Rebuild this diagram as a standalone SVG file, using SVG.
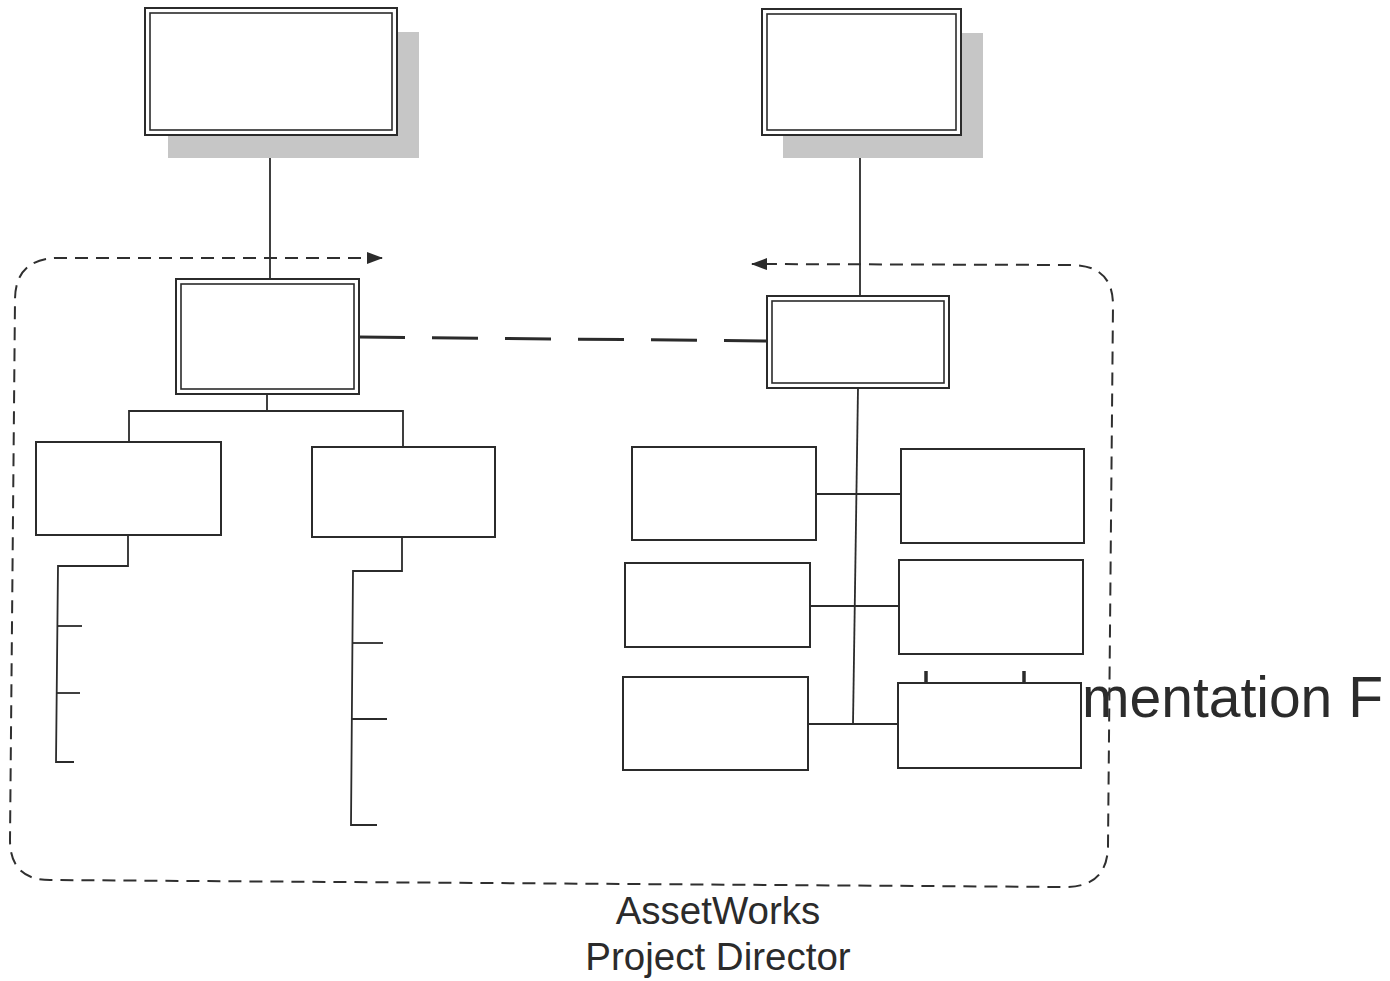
<svg xmlns="http://www.w3.org/2000/svg" width="1390" height="981" viewBox="0 0 1390 981">
  <defs>
    <style>
      .shadow { fill: #c6c6c6; stroke: none; }
      .outer { fill: #ffffff; stroke: #2b2b2b; stroke-width: 2; }
      .inner { fill: none; stroke: #2b2b2b; stroke-width: 1.6; }
      .box { fill: #ffffff; stroke: #2b2b2b; stroke-width: 2; }
      .wire { fill: none; stroke: #2b2b2b; stroke-width: 1.8; }
      .link { fill: none; stroke: #2b2b2b; stroke-width: 3; stroke-dasharray: 46 27; }
      .boundary { fill: none; stroke: #2f2f2f; stroke-width: 2; stroke-dasharray: 13 8; }
      .tick { stroke: #2b2b2b; stroke-width: 3.5; }
      .label { font-family: "Liberation Sans", Arial, sans-serif; fill: #2b2b2b; }
    </style>
    <marker id="head" viewBox="0 0 16 12" refX="15" refY="6" markerWidth="16" markerHeight="12" markerUnits="userSpaceOnUse" orient="auto-start-reverse">
      <path d="M0,0 L16,6 L0,12 Z" fill="#2b2b2b"/>
    </marker>
  </defs>

  <rect width="1390" height="981" fill="#ffffff"/>

  <!-- large caption partly behind the lower right box -->
  <text class="label" x="1082" y="717" font-size="57">mentation F</text>

  <g id="connectors">
    <!-- top boxes down to the team leads -->
    <line class="wire" x1="270" y1="135" x2="270" y2="279"/>
    <line class="wire" x1="860" y1="135" x2="860" y2="296"/>

    <!-- left lead to its two groups -->
    <polyline class="wire" points="267,394 267,411"/>
    <polyline class="wire" points="129,442 129,411 403,411 403,447"/>

    <!-- left group list -->
    <polyline class="wire" points="128,535 128,566 58,566 56,762 74,762"/>
    <line class="wire" x1="58" y1="626" x2="82" y2="626"/>
    <line class="wire" x1="57" y1="693" x2="80" y2="693"/>

    <!-- right group list -->
    <polyline class="wire" points="402,537 402,571 353,571 351,825 377,825"/>
    <line class="wire" x1="353" y1="643" x2="383" y2="643"/>
    <line class="wire" x1="352" y1="719" x2="387" y2="719"/>

    <!-- right lead spine and branches -->
    <polyline class="wire" points="858,388 853,724"/>
    <line class="wire" x1="816" y1="494" x2="901" y2="494"/>
    <line class="wire" x1="810" y1="606" x2="899" y2="606"/>
    <line class="wire" x1="808" y1="724" x2="898" y2="724"/>

    <!-- peer link between the two leads -->
    <line class="link" x1="359" y1="337" x2="768" y2="341"/>

    <!-- project boundary with outward arrows -->
    <path class="boundary" marker-start="url(#head)" marker-end="url(#head)"
          d="M382,258 L55,258 Q15,260 15,300 L10,840 Q10,880 50,880 L1065,887 Q1108,887 1108,845 L1113,305 Q1113,266 1073,265 L752,264"/>
  </g>

  <g id="sponsor-left">
    <rect class="shadow" x="168" y="32" width="251" height="126"/>
    <rect class="outer" x="145" y="8" width="252" height="127"/>
    <rect class="inner" x="150" y="13" width="242" height="117"/>
  </g>

  <g id="sponsor-right">
    <rect class="shadow" x="783" y="33" width="200" height="125"/>
    <rect class="outer" x="762" y="9" width="199" height="126"/>
    <rect class="inner" x="767" y="14" width="189" height="116"/>
  </g>

  <g id="lead-left">
    <rect class="outer" x="176" y="279" width="183" height="115"/>
    <rect class="inner" x="181" y="284" width="173" height="105"/>
  </g>

  <g id="lead-right">
    <rect class="outer" x="767" y="296" width="182" height="92"/>
    <rect class="inner" x="772" y="301" width="172" height="82"/>
  </g>

  <g id="group-left-1">
    <rect class="box" x="36" y="442" width="185" height="93"/>
  </g>
  <g id="group-left-2">
    <rect class="box" x="312" y="447" width="183" height="90"/>
  </g>

  <g id="team-r1-left">
    <rect class="box" x="632" y="447" width="184" height="93"/>
  </g>
  <g id="team-r1-right">
    <rect class="box" x="901" y="449" width="183" height="94"/>
  </g>
  <g id="team-r2-left">
    <rect class="box" x="625" y="563" width="185" height="84"/>
  </g>
  <g id="team-r2-right">
    <rect class="box" x="899" y="560" width="184" height="94"/>
  </g>
  <g id="team-r3-left">
    <rect class="box" x="623" y="677" width="185" height="93"/>
  </g>
  <g id="team-r3-right">
    <line class="tick" x1="926" y1="671" x2="926" y2="683"/>
    <line class="tick" x1="1024" y1="671" x2="1024" y2="683"/>
    <rect class="box" x="898" y="683" width="183" height="85"/>
  </g>

  <g id="caption">
    <text class="label" x="718" y="924" font-size="38.5" text-anchor="middle">AssetWorks</text>
    <text class="label" x="718" y="970" font-size="38.5" text-anchor="middle">Project Director</text>
  </g>
</svg>
